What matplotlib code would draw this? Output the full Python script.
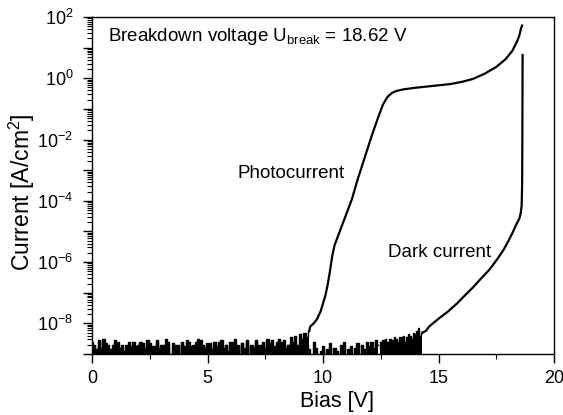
import numpy as np
import matplotlib
matplotlib.use("Agg")
import matplotlib.pyplot as plt
from matplotlib.ticker import LogLocator, FuncFormatter, MultipleLocator

plt.rcParams['font.family'] = ['Liberation Sans', 'DejaVu Sans']
plt.rcParams['mathtext.fontset'] = 'custom'
plt.rcParams['mathtext.rm'] = 'Liberation Sans'
plt.rcParams['mathtext.it'] = 'Liberation Sans:italic'
plt.rcParams['mathtext.default'] = 'regular'

# ---- data (log10 of current density, A/cm^2) ----
# noise floor of the photocurrent, 0 .. 9.4 V in 0.1 V steps
photo_noise_log = [-8.6,-8.75,-9.2,-8.55,-8.8,-8.5,-9.2,-8.7,-8.85,-9.2,
 -8.65,-8.6,-8.8,-9.2,-8.9,-8.7,-9.2,-8.85,-8.6,-8.75,
 -9.2,-8.8,-8.65,-8.9,-8.55,-9.2,-8.75,-8.85,-8.6,-9.2,
 -8.7,-8.9,-8.5,-8.8,-9.2,-8.65,-8.85,-8.7,-9.2,-8.6,
 -8.8,-8.55,-9.2,-8.75,-8.9,-8.6,-8.5,-9.2,-8.7,-8.8,
 -8.65,-9.2,-8.85,-8.6,-8.75,-9.2,-8.55,-8.8,-8.7,-9.2,
 -8.6,-8.85,-8.5,-8.75,-9.2,-8.65,-8.8,-8.6,-9.2,-8.7,
 -8.85,-8.55,-8.7,-9.2,-8.6,-8.8,-8.5,-8.65,-9.2,-8.75,
 -8.6,-8.5,-8.8,-8.55,-9.2,-8.7,-8.45,-8.6,-8.4,-8.7,
 -8.35,-8.5,-8.3,-8.45,-8.25]
photo_noise_bias = np.round(np.arange(len(photo_noise_log)) * 0.1, 2)

photo_bias = [9.4, 9.45, 9.6, 9.75, 9.9, 10.0, 10.1, 10.2, 10.3, 10.4, 10.5, 10.6, 10.75,
              11.0, 11.25, 11.5, 11.8, 12.1, 12.4, 12.6, 12.8, 13.0, 13.2, 13.5,
              14.0, 14.5, 15.0, 15.5, 16.0, 16.5, 17.0, 17.5, 17.9, 18.2, 18.4,
              18.5, 18.58, 18.62]
photo_log = [-8.25, -8.1, -8.0, -7.85, -7.6, -7.35, -7.1, -6.75, -6.3, -5.8, -5.45, -5.25, -4.95,
             -4.45, -3.95, -3.3, -2.6, -1.9, -1.25, -0.85, -0.6, -0.47, -0.41, -0.36,
             -0.31, -0.27, -0.23, -0.19, -0.12, -0.02, 0.15, 0.37, 0.62, 0.9, 1.2,
             1.4, 1.65, 1.72]

# noise floor of the dark current, 0 .. 12.4 V in 0.1 V steps
dark_noise_log = [-9.2,-8.7,-8.85,-8.6,-9.2,-8.8,-8.65,-9.2,-8.9,-8.7,
 -8.55,-9.2,-8.8,-8.7,-8.9,-9.2,-8.6,-8.75,-9.2,-8.85,
 -8.7,-8.6,-9.2,-8.8,-8.9,-8.65,-9.2,-8.75,-8.55,-8.8,
 -9.2,-8.7,-8.85,-8.6,-9.2,-8.9,-8.7,-8.8,-9.2,-8.65,
 -8.75,-9.2,-8.6,-8.85,-8.7,-9.2,-8.8,-8.55,-8.9,-9.2,
 -8.7,-8.65,-9.2,-8.8,-8.75,-8.6,-9.2,-8.85,-8.7,-8.9,
 -9.2,-8.6,-8.8,-8.7,-9.2,-8.65,-8.85,-8.55,-9.2,-8.75,
 -8.8,-8.6,-9.2,-8.7,-8.85,-9.2,-8.65,-8.8,-8.55,-9.2,
 -8.75,-8.9,-8.6,-9.2,-8.8,-8.7,-9.2,-8.85,-8.65,-9.2,
 -8.8,-8.9,-9.2,-8.7,-8.85,-9.2,-8.6,-8.8,-9.2,-8.9,
 -8.75,-9.2,-8.85,-8.65,-9.2,-8.8,-8.9,-9.2,-8.7,-8.6,
 -9.2,-8.85,-8.75,-9.2,-8.8,-8.65,-9.2,-8.7,-8.85,-8.6,
 -8.75,-8.6,-8.8,-8.55,-8.7]
dark_noise_bias = np.round(np.arange(len(dark_noise_log)) * 0.1, 2)

# noisy onset of the dark current, 12.45 .. 14.3 V in 0.05 V steps
dark_rise_noise_log = [-8.8,-8.6,-8.75,-8.55,-8.7,-8.5,-8.75,-8.6,-8.65,-8.5,
 -8.7,-8.55,-8.6,-8.45,-8.65,-8.5,-8.6,-8.45,-8.6,-8.45,
 -8.55,-8.4,-8.6,-8.45,-8.5,-8.35,-8.55,-8.4,-8.5,-8.3,
 -8.5,-8.35,-8.25,-8.45,-8.15,-8.4,-8.3,-8.3]
dark_rise_noise_bias = np.round(12.45 + np.arange(len(dark_rise_noise_log)) * 0.05, 3)

dark_bias = [14.3, 14.45, 14.6, 15.0, 15.4, 15.8, 16.1, 16.5, 16.8, 17.2, 17.5, 17.8, 18.0,
             18.2, 18.35, 18.5, 18.56, 18.6, 18.62, 18.63, 18.64]
dark_log = [-8.3, -8.25, -8.1, -7.85, -7.62, -7.35, -7.12, -6.82, -6.57, -6.25, -5.95, -5.62, -5.35,
            -5.05, -4.8, -4.58, -4.4, -4.15, -3.5, -2.0, 0.76]

FLOOR = 1e-10

fig = plt.figure(figsize=(5.63, 4.15), dpi=100)
ax = fig.add_axes([92/563, 1-354/415, (554-92)/563, (354-17)/415])

noise_sets = [
    (photo_noise_bias, photo_noise_log),
    (dark_noise_bias, dark_noise_log),
    (dark_rise_noise_bias, dark_rise_noise_log),
]
for xb, yl in noise_sets:
    yv = 10.0 ** np.asarray(yl)
    ax.fill_between(xb, FLOOR, yv, step='mid', color='black', lw=0)
    ax.plot(xb, yv, color='black', lw=1.0, drawstyle='steps-mid')

ax.plot(dark_bias, 10.0 ** np.asarray(dark_log), color='black', lw=1.6)
ax.plot(photo_bias, 10.0 ** np.asarray(photo_log), color='black', lw=1.6)

ax.set_yscale('log')
ax.set_xlim(0, 20)
ax.set_ylim(1e-9, 1e2)

ax.xaxis.set_major_locator(MultipleLocator(5))
ax.xaxis.set_minor_locator(MultipleLocator(2.5))
ax.yaxis.set_major_locator(LogLocator(base=10, numticks=30))
ax.yaxis.set_minor_locator(LogLocator(base=10, subs=np.arange(2, 10), numticks=30))

def yfmt(v, pos):
    e = int(round(np.log10(v)))
    return r'$10^{%d}$' % e if e % 2 == 0 else ''
ax.yaxis.set_major_formatter(FuncFormatter(yfmt))

ax.tick_params(axis='both', which='major', direction='out', length=6.5, width=1, labelsize=13, top=False, right=False)
ax.tick_params(axis='x', which='major', pad=5)
ax.tick_params(axis='y', which='major', pad=7)
ax.tick_params(axis='both', which='minor', direction='out', length=3.5, width=0.8, top=False, right=False)
for s in ax.spines.values():
    s.set_linewidth(1)

ax.set_xlabel('Bias [V]', fontsize=15.5)
ax.set_ylabel(r'Current [A/cm$^2$]', fontsize=16.5)
ax.xaxis.set_label_coords(0.53, -0.11)
ax.yaxis.set_label_coords(-0.12, 0.48)

ax.text(0.035, 0.972, r'Breakdown voltage U$_{break}$ = 18.62 V', transform=ax.transAxes,
        fontsize=13.5, ha='left', va='top')
ax.text(0.315, 0.535, 'Photocurrent', transform=ax.transAxes, fontsize=13.5, ha='left', va='center')
ax.text(0.64, 0.30, 'Dark current', transform=ax.transAxes, fontsize=13.5, ha='left', va='center')

fig.savefig('out.png', dpi=100)
